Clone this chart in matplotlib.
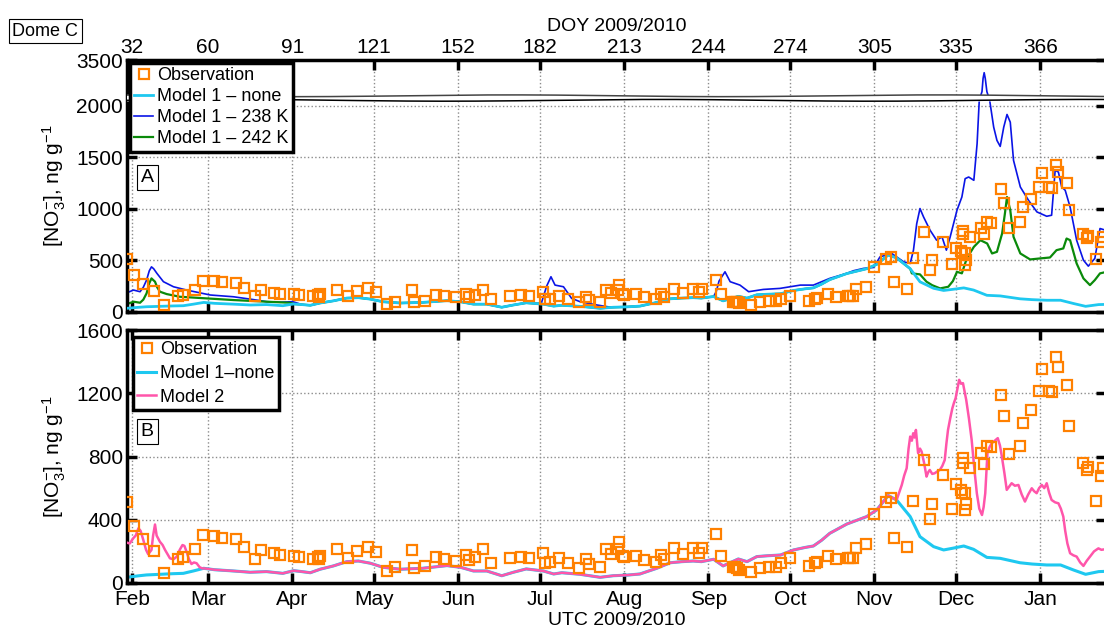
import numpy as np
import matplotlib
matplotlib.use('Agg')
import matplotlib.pyplot as plt

plt.rcParams['font.family'] = ['Liberation Sans', 'DejaVu Sans']
plt.rcParams['mathtext.fontset'] = 'custom'
plt.rcParams['mathtext.rm'] = 'Liberation Sans'
plt.rcParams['mathtext.it'] = 'Liberation Sans:italic'

# day of year (2010 days continue past 365)
TICK_DOY = [32, 60, 91, 121, 152, 182, 213, 244, 274, 305, 335, 366]
MONTHS = ['Feb', 'Mar', 'Apr', 'May', 'Jun', 'Jul', 'Aug', 'Sep', 'Oct', 'Nov', 'Dec', 'Jan']

# observations (doy, ng/g)
obs = [(30.2, 514), (32.9, 361), (35.9, 276), (40.0, 205), (43.9, 65), (49.1, 152), (50.9, 167),
       (55.2, 213), (58.2, 304), (62.3, 300), (65.3, 287), (70.3, 281), (73.4, 230), (77.4, 154),
       (79.5, 209), (84.4, 188), (86.6, 175), (91.5, 171), (93.6, 163), (98.5, 152), (100.3, 165),
       (100.8, 150), (101.1, 170), (107.6, 215), (111.6, 156), (114.7, 204), (118.7, 230),
       (121.7, 194), (125.7, 76), (128.8, 99), (134.9, 209), (135.8, 93), (139.8, 110), (143.8, 167),
       (146.9, 152), (151.1, 141), (154.9, 177), (156.1, 146), (158.2, 162), (161.0, 213),
       (164.0, 129), (171.0, 156), (175.0, 167), (178.2, 160), (183.0, 192), (183.9, 124),
       (185.6, 131), (189.1, 160), (192.3, 124), (196.4, 93), (199.1, 150), (200.1, 118), (204.2, 99),
       (206.4, 215), (208.2, 184), (210.7, 213), (211.2, 261), (212.5, 171), (213.0, 165),
       (217.2, 173), (220.2, 146), (224.8, 131), (226.6, 177), (227.8, 150), (231.5, 223),
       (234.5, 184), (238.5, 223), (240.7, 192), (241.6, 219), (246.8, 308), (248.5, 171),
       (252.9, 101), (253.7, 99), (254.4, 93), (255.2, 84), (259.5, 72), (262.8, 93), (266.4, 103),
       (268.9, 103), (270.7, 124), (274.0, 160), (280.9, 108), (283.2, 126), (283.9, 133),
       (287.8, 173), (290.9, 150), (295.2, 158), (296.2, 158), (297.2, 160), (298.2, 223),
       (302.0, 245), (305.0, 435), (309.2, 515), (311.1, 536), (312.2, 287), (317.2, 226),
       (319.2, 521), (323.3, 778), (325.3, 405), (326.4, 500), (330.3, 684), (333.6, 468),
       (335.1, 625), (336.9, 590), (337.1, 570), (337.5, 790), (337.7, 760), (338.4, 570),
       (338.6, 500), (338.4, 460), (340.1, 725), (344.4, 820), (345.3, 753), (346.3, 869),
       (348.0, 859), (351.6, 1190), (352.6, 1053), (354.6, 814), (358.4, 869), (359.5, 1015),
       (362.5, 1095), (365.6, 1215), (366.6, 1352), (369.2, 1217), (370.5, 1207), (371.7, 1428),
       (372.7, 1363), (375.7, 1253), (376.6, 990), (381.6, 758), (383.1, 715), (383.6, 735),
       (386.7, 519), (388.2, 679), (389.0, 728)]

# Model 1 - none
m1_none = [(30.2, 36), (34.2, 45), (37.4, 51), (41.3, 54), (44.8, 57), (47.3, 59), (50.9, 61),
           (54.6, 76), (58.4, 93), (62.4, 84), (69.4, 76), (75.5, 68), (81.5, 72), (87.5, 61),
           (91.5, 78), (94.5, 72), (97.6, 65), (101.2, 87), (106.1, 108), (111.0, 135), (115.3, 139),
           (119.7, 125), (124.4, 99), (130.8, 87), (138.8, 93), (147.9, 110), (152.9, 99),
           (157.6, 76), (162.5, 76), (168.0, 46), (172.3, 68), (177.0, 89), (183.3, 76), (187.1, 57),
           (190.1, 65), (196.8, 55), (204.2, 36), (209.0, 46), (214.2, 50), (218.8, 57), (225.0, 93),
           (229.9, 128), (234.3, 135), (238.4, 139), (241.4, 135), (245.9, 150), (249.4, 108),
           (255.0, 152), (258.2, 135), (261.8, 167), (265.5, 172), (270.5, 177), (275.3, 209),
           (279.6, 225), (282.6, 234), (285.6, 270), (288.6, 314), (294.9, 373), (302.2, 420),
           (305.9, 462), (310.1, 553), (313.2, 525), (318.2, 420), (321.8, 293), (326.8, 230),
           (330.5, 209), (333.9, 220), (337.9, 234), (341.5, 213), (346.4, 162), (351.3, 156),
           (358.6, 128), (363, 120), (368.4, 114), (373.5, 114), (378.3, 82), (382.7, 55),
           (387.5, 72), (390.5, 74)]

# Model 1 - 238 K (parts that leave Model 1 - none)
m238_early = [(30.2, 187), (32.6, 213), (35.0, 197), (36.2, 240), (37.4, 310), (38.4, 400),
              (39.2, 438), (40.0, 420), (41.2, 375), (43.6, 294), (47.3, 245), (52.1, 213),
              (56.3, 190), (60.8, 165), (69.3, 148), (75.5, 125), (81.6, 100), (86.5, 95), (91.2, 100)]
m238_jul = [(182.5, 80), (183.3, 148), (184.5, 250), (186.1, 342), (187.6, 261), (190.7, 245),
            (193.7, 132), (196.8, 100), (203.0, 68), (207.2, 50)]
m238_late = [(245.9, 150), (246.9, 200), (247.9, 300), (250.1, 390), (252.0, 294), (255.6, 261),
             (258.8, 197), (264.2, 219), (270.3, 229), (277.8, 261), (282.6, 261), (288.6, 326),
             (294.9, 375), (297.3, 400), (301.0, 423), (304.7, 432), (307.1, 535), (311.4, 568),
             (315.8, 487), (318.2, 471), (319.4, 600), (320.6, 858), (321.8, 1004), (323.1, 923),
             (325.5, 794), (327.9, 697), (329.9, 729), (331.5, 600), (332.9, 729), (335.4, 987),
             (337.2, 1116), (338.4, 1294), (339.7, 1310), (341.6, 1278), (342.8, 1633), (343.6, 2195),
             (344.6, 2466), (345.0, 2900), (345.4, 3085), (345.8, 2900), (346.4, 2466), (347.4, 2195),
             (348.9, 1794), (350.1, 1665), (351.3, 1607), (352.6, 1794), (353.8, 1917), (355, 1842),
             (356.2, 1471), (358.7, 1213), (361.7, 1084), (364.8, 971), (368.4, 929), (370.2, 939),
             (371.5, 1375), (372.7, 1358), (373.9, 1213), (375.2, 1181), (377, 1019), (379.4, 697),
             (381.9, 503), (383.7, 445), (386.1, 520), (388, 810), (390.5, 790)]

# Model 1 - 242 K
m242_early = [(30.2, 77), (32.6, 100), (35.0, 90), (36.2, 120), (37.4, 181), (38.4, 280), (39.2, 326),
              (40.5, 294), (41.3, 240), (42.3, 197), (44.8, 174), (49.6, 148), (59.5, 132),
              (69.3, 116), (81.5, 100), (90.0, 90)]
m242_late = [(318.8, 375), (321.8, 365), (324.2, 294), (326.3, 260), (329.2, 229), (332.2, 245),
             (333.9, 300), (335.4, 390), (337.2, 375), (339.0, 520), (341.6, 632), (344, 697),
             (346.5, 665), (348.3, 568), (350.1, 584), (352, 762), (353, 950), (353.8, 1116),
             (355, 987), (356.2, 729), (358.7, 568), (362.3, 510), (366, 520), (369.6, 529),
             (372, 600), (374.5, 617), (375.7, 713), (377, 697), (379.4, 471), (381.9, 326),
             (384.3, 261), (386.1, 310), (388, 375), (390.5, 390)]

# Model 2
m2_early = [(30.2, 255), (31.2, 250), (32.5, 283), (33.4, 300), (34.4, 346), (35.2, 330), (36.2, 272),
            (37.2, 210), (38.0, 182), (39.2, 209), (39.8, 300), (40.5, 370), (41.1, 300), (42.3, 261),
            (43.3, 240), (44.2, 209), (46.0, 156), (47.3, 150), (48.5, 167), (49.6, 210), (50.6, 240),
            (51.3, 235), (52.1, 198), (53.0, 150), (53.9, 120), (54.8, 130), (55.8, 125), (56.9, 100),
            (57.9, 92)]
m2_late = [(315.1, 620), (316.0, 680), (316.9, 726), (317.6, 850), (318.2, 926), (318.8, 900),
           (319.3, 947), (319.8, 920), (320.3, 968), (321.1, 821), (321.8, 850), (322.4, 831),
           (323.3, 760), (324.2, 673), (324.8, 700), (325.4, 715), (326.3, 690), (327.2, 694),
           (328.1, 705), (329.1, 715), (330.0, 740), (330.9, 778), (331.5, 880), (332.1, 968),
           (332.9, 1040), (333.7, 1105), (334.3, 1140), (334.9, 1169), (335.6, 1230), (336.2, 1285),
           (336.9, 1260), (337.6, 1264), (338.2, 1210), (338.8, 1158), (339.8, 1040), (340.8, 905),
           (341.8, 720), (342.7, 568), (343.6, 470), (344.6, 430), (345.2, 480), (345.8, 568),
           (346.6, 821), (347.4, 860), (348.2, 884), (349.3, 900), (350.4, 916), (351.2, 870),
           (351.9, 800), (352.8, 700), (353.7, 589), (354.6, 610), (355.5, 631), (356.7, 615),
           (358, 620), (359.2, 560), (360.4, 515), (361.6, 560), (362.9, 599), (363.8, 580),
           (364.7, 568), (365.6, 600), (366.6, 620), (367.5, 600), (368.4, 631), (369.3, 570),
           (370.2, 525), (371.5, 510), (372.7, 504), (373.6, 470), (374.5, 420), (375.2, 330),
           (376, 250), (377, 188), (378.2, 175), (379.4, 167), (380.7, 130), (381.9, 108),
           (383.1, 140), (384.3, 167), (385.8, 200), (387.4, 219), (388.5, 210), (390.5, 215)]

C_OBS = '#ff8000'
C_NONE = '#1ec8f0'
C_238 = '#0a14e6'
C_242 = '#0a8a0a'
C_M2 = '#ff55aa'

Y_BREAK = 2000
Y_SQUEEZE = 0.297
XLIM = (30.2, 390.2)


def arr(pairs):
    a = np.array(pairs, dtype=float)
    return a[:, 0], a[:, 1]


def join(*parts):
    x = np.concatenate([p[0] for p in parts])
    y = np.concatenate([p[1] for p in parts])
    return x, y


def span(x, y, lo, hi):
    m = (x > lo) & (x < hi)
    return x[m], y[m]


def fwd(v):
    v = np.asarray(v, dtype=float)
    return np.where(v <= Y_BREAK, v, Y_BREAK + (v - Y_BREAK) * Y_SQUEEZE)


def inv(v):
    v = np.asarray(v, dtype=float)
    return np.where(v <= Y_BREAK, v, Y_BREAK + (v - Y_BREAK) / Y_SQUEEZE)


def style_axes(ax):
    ax.set_xlim(*XLIM)
    ax.set_xticks(TICK_DOY)
    ax.xaxis.set_ticks_position('both')
    ax.yaxis.set_ticks_position('both')
    ax.tick_params(direction='in', length=7, width=2.5, labelsize=15, pad=3)
    for s in ax.spines.values():
        s.set_linewidth(2.5)
    ax.grid(True, linestyle=':', color='#8c8c8c', linewidth=1.0)
    ax.set_axisbelow(True)


def add_legend(ax, handles, spacing):
    leg = ax.legend(handles=handles, loc='upper left', bbox_to_anchor=(0.0, 1.0), fontsize=13,
                    fancybox=False, framealpha=1, edgecolor='black', borderaxespad=0.15,
                    borderpad=0.25, labelspacing=spacing, handlelength=1.05, handletextpad=0.2)
    leg.get_frame().set_linewidth(2.5)
    leg.set_zorder(10)
    return leg


def main():
    ox, oy = arr(obs)
    nx, ny = arr(m1_none)
    bx, by = join(arr(m238_early), span(nx, ny, 93, 182.5), arr(m238_jul),
                  span(nx, ny, 207.5, 245.5), arr(m238_late))
    gx, gy = join(arr(m242_early), span(nx, ny, 91, 318.5), arr(m242_late))
    px, py = join(arr(m2_early), span(nx, ny, 58, 314), arr(m2_late))

    fig = plt.figure(figsize=(11.04, 6.39), dpi=100)
    W = 1104.0
    H = 639.0
    left = 127 / W
    width = (1106 - 127) / W
    ax1 = fig.add_axes([left, 1 - 312 / H, width, (312 - 60) / H])
    ax2 = fig.add_axes([left, 1 - 583 / H, width, (583 - 330) / H])

    # panel A
    style_axes(ax1)
    ax1.set_yscale('function', functions=(fwd, inv))
    ax1.set_ylim(0, 3500)
    ax1.set_yticks([0, 500, 1000, 1500, 2000, 3500])
    ax1.set_yticklabels(['0', '500', '1000', '1500', '2000', '3500'])
    ax1.tick_params(axis='x', labeltop=True, labelbottom=False, pad=2)
    ax1.set_xticklabels([str(d) for d in TICK_DOY])
    ax1.xaxis.set_label_position('top')
    ax1.set_xlabel('DOY 2009/2010', fontsize=14, labelpad=5)

    h_obs, = ax1.plot(ox, oy, 's', mfc='none', mec=C_OBS, ms=7, mew=1.6, zorder=4,
                      label='Observation')
    h_none, = ax1.plot(nx, ny, color=C_NONE, lw=2.0, zorder=3, label='Model 1 \u2013 none')
    h_238, = ax1.plot(bx, by, color=C_238, lw=1.2, zorder=2, label='Model 1 \u2013 238 K')
    h_242, = ax1.plot(gx, gy, color=C_242, lw=1.6, zorder=2.5, label='Model 1 \u2013 242 K')

    # axis break marks
    xb = np.linspace(0, 1, 400)
    lo = 0.840 + 0.0035 * np.sin(2 * np.pi * xb * 2.3)
    hi = 0.858 + 0.0035 * np.sin(2 * np.pi * xb * 2.3 + 2.2)
    ax1.fill_between(xb, lo, hi, color='white', transform=ax1.transAxes, zorder=5)
    ax1.plot(xb, lo, color='black', lw=1.1, transform=ax1.transAxes, zorder=6)
    ax1.plot(xb, hi, color='#444444', lw=1.1, transform=ax1.transAxes, zorder=6)

    add_legend(ax1, [h_obs, h_none, h_238, h_242], 0.22)
    ax1.text(0.014, 0.535, 'A', transform=ax1.transAxes, fontsize=14, va='center', ha='left',
             bbox=dict(boxstyle='square,pad=0.2', fc='white', ec='black', lw=0.8))
    ax1.set_ylabel('[NO$_3^{-}$], ng g$^{-1}$', fontsize=15, labelpad=6)

    # panel B
    style_axes(ax2)
    ax2.set_ylim(0, 1600)
    ax2.set_yticks([0, 400, 800, 1200, 1600])
    ax2.set_xticklabels(MONTHS)
    ax2.tick_params(axis='x', pad=5)
    ax2.set_xlabel('UTC 2009/2010', fontsize=14, labelpad=2)

    k_obs, = ax2.plot(ox, oy, 's', mfc='none', mec=C_OBS, ms=7, mew=1.6, zorder=4,
                      label='Observation')
    k_none, = ax2.plot(nx, ny, color=C_NONE, lw=2.2, zorder=2, label='Model 1\u2013none')
    k_m2, = ax2.plot(px, py, color=C_M2, lw=1.8, zorder=3, label='Model 2')

    leg2 = add_legend(ax2, [k_obs, k_none, k_m2], 0.38)
    leg2.set_bbox_to_anchor((0.003, 0.985), transform=ax2.transAxes)
    ax2.text(0.014, 0.60, 'B', transform=ax2.transAxes, fontsize=14, va='center', ha='left',
             bbox=dict(boxstyle='square,pad=0.2', fc='white', ec='black', lw=0.8))
    ax2.set_ylabel('[NO$_3^{-}$], ng g$^{-1}$', fontsize=15, labelpad=6)

    fig.text(0.011, 0.951, 'Dome C', fontsize=13, va='center', ha='left',
             bbox=dict(boxstyle='square,pad=0.2', fc='white', ec='black', lw=0.8))

    fig.savefig('out.png', dpi=100)


if __name__ == '__main__':
    main()
